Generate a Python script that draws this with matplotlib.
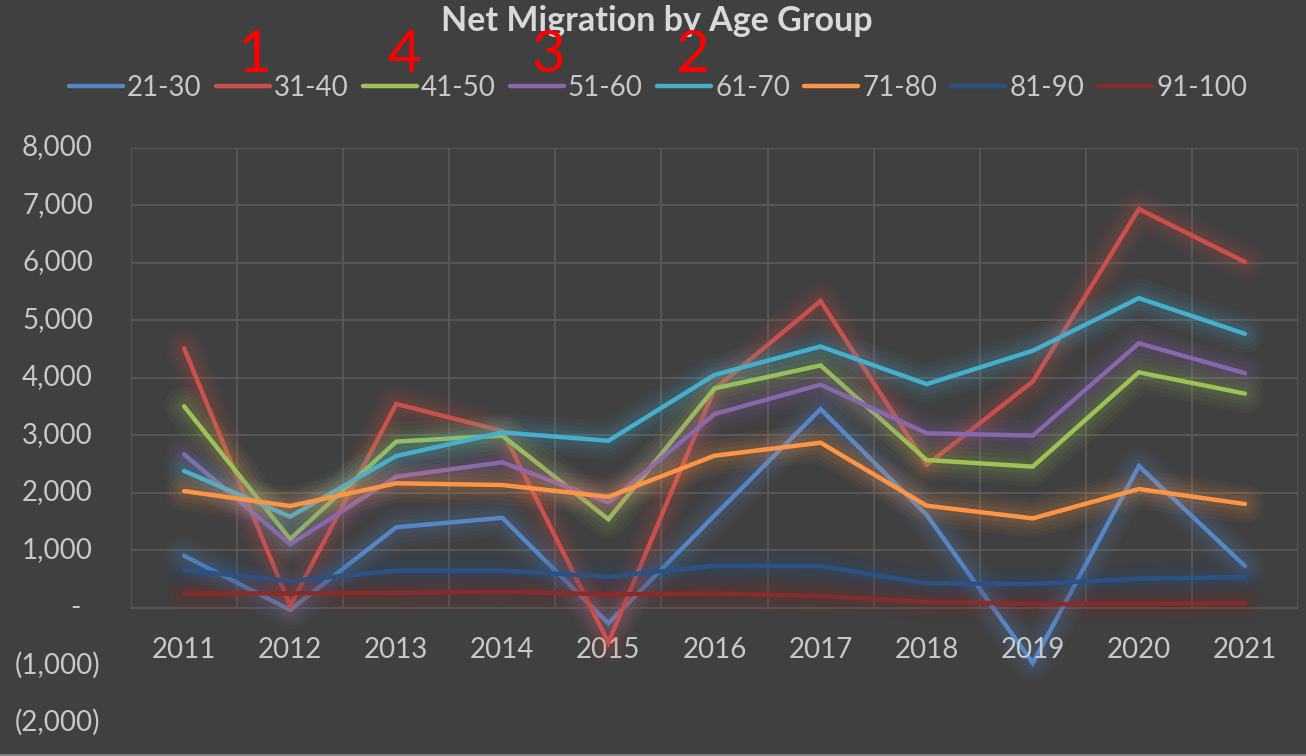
import matplotlib
matplotlib.use("Agg")
import matplotlib.pyplot as plt
from matplotlib.lines import Line2D
from matplotlib import transforms

plt.rcParams["font.family"] = ["Lato", "DejaVu Sans"]

years = [2011, 2012, 2013, 2014, 2015, 2016, 2017, 2018, 2019, 2020, 2021]

age_21_30 = [900, -40, 1395, 1560, -275, 1600, 3450, 1610, -965, 2460, 720]
age_31_40 = [4510, 30, 3540, 3070, -610, 3800, 5330, 2480, 3930, 6930, 6010]
age_41_50 = [3500, 1190, 2885, 2990, 1535, 3810, 4210, 2565, 2450, 4090, 3720]
age_51_60 = [2665, 1100, 2275, 2525, 1825, 3365, 3875, 3030, 2990, 4595, 4075]
age_61_70 = [2375, 1580, 2635, 3045, 2900, 4045, 4540, 3885, 4465, 5380, 4760]
age_71_80 = [2025, 1765, 2160, 2130, 1925, 2640, 2866, 1770, 1550, 2060, 1800]
age_81_90 = [650, 460, 640, 640, 535, 725, 720, 420, 410, 500, 530]
age_91_100 = [245, 245, 255, 275, 230, 245, 200, 100, 60, 60, 75]

series = [
    ("21-30", age_21_30, "#5587c6"),
    ("31-40", age_31_40, "#c9504c"),
    ("41-50", age_41_50, "#9dc257"),
    ("51-60", age_51_60, "#8867ad"),
    ("61-70", age_61_70, "#47afce"),
    ("71-80", age_71_80, "#fd9546"),
    ("81-90", age_81_90, "#2b5286"),
    ("91-100", age_91_100, "#862c2a"),
]

y_ticks = [-2000, -1000, 0, 1000, 2000, 3000, 4000, 5000, 6000, 7000, 8000]

# red ranking marks written over the legend
rank_marks = ["1", "4", "3", "2"]
rank_x_px = [254, 404, 548, 692]

bg = "#404040"
grid_c = "#595959"
text_c = "#c8c8c8"

W, H = 1306, 756
fig = plt.figure(figsize=(W / 100, H / 100), dpi=100, facecolor=bg)
ax = fig.add_axes([131 / W, 1 - 722.5 / H, 1167 / W, 575 / H])
ax.set_facecolor(bg)

x = list(range(len(years)))
ax.set_xlim(-0.5, len(years) - 0.5)
ax.set_ylim(-2000, 8000)

# gridlines only over the positive range, like the original
for v in y_ticks:
    if v >= 0:
        ax.axhline(v, color=grid_c, lw=1.3, zorder=0)
ax.vlines([i - 0.5 for i in range(len(years) + 1)], 0, 8000,
          color=grid_c, lw=1.3, zorder=0)

for spine in ax.spines.values():
    spine.set_visible(False)
ax.set_xticks([])
ax.set_yticks([])

handles = []
for k, (name, vals, col) in enumerate(series):
    z = 2 + k * 2
    # soft glow behind each line
    for lw, a in [(28, 0.05), (22, 0.055), (16, 0.065), (10, 0.08)]:
        ax.plot(x, vals, color=col, lw=lw, alpha=a, solid_joinstyle="round",
                solid_capstyle="round", zorder=z)
    (ln,) = ax.plot(x, vals, color=col, lw=3.2, solid_joinstyle="miter",
                    solid_capstyle="round", zorder=z + 1, label=name)
    handles.append(ln)

# y tick labels in accounting style
ytr = transforms.blended_transform_factory(ax.transAxes, ax.transData)
for v in y_ticks:
    if v > 0:
        ax.text(-0.0326, v, f"{v:,}", transform=ytr, ha="right", va="center",
                fontsize=20, color=text_c)
    elif v < 0:
        ax.text(-0.0266, v, f"({-v:,})", transform=ytr, ha="right", va="center",
                fontsize=20, color=text_c)
    else:
        ax.text(-0.048, v, "-", transform=ytr, ha="center", va="center",
                fontsize=20, color=text_c)

# category labels sit just under the zero line
for i, yr in enumerate(years):
    ax.text(i, -740, str(yr), ha="center", va="center", fontsize=20,
            color=text_c)

fig.text(657 / W, 1 - 31 / H, "Net Migration by Age Group", ha="center",
         va="baseline", fontsize=24.5, fontweight="bold", color="#d9d9d9")

leg = fig.legend(handles=handles, loc="center", ncol=8,
                 bbox_to_anchor=(658 / W, 1 - 88 / H), frameon=False,
                 fontsize=20, handlelength=1.95, handletextpad=0.15,
                 columnspacing=0.5, labelcolor=text_c)

for mark, px in zip(rank_marks, rank_x_px):
    fig.text(px / W, 1 - 72 / H, mark, ha="center", va="baseline",
             fontsize=42, color="#ff0000")

fig.add_artist(Line2D([0, 1], [1.5 / H, 1.5 / H], color="#7f7f7f", lw=1.5,
                      transform=fig.transFigure))

fig.savefig("out.png", dpi=100, facecolor=bg)
